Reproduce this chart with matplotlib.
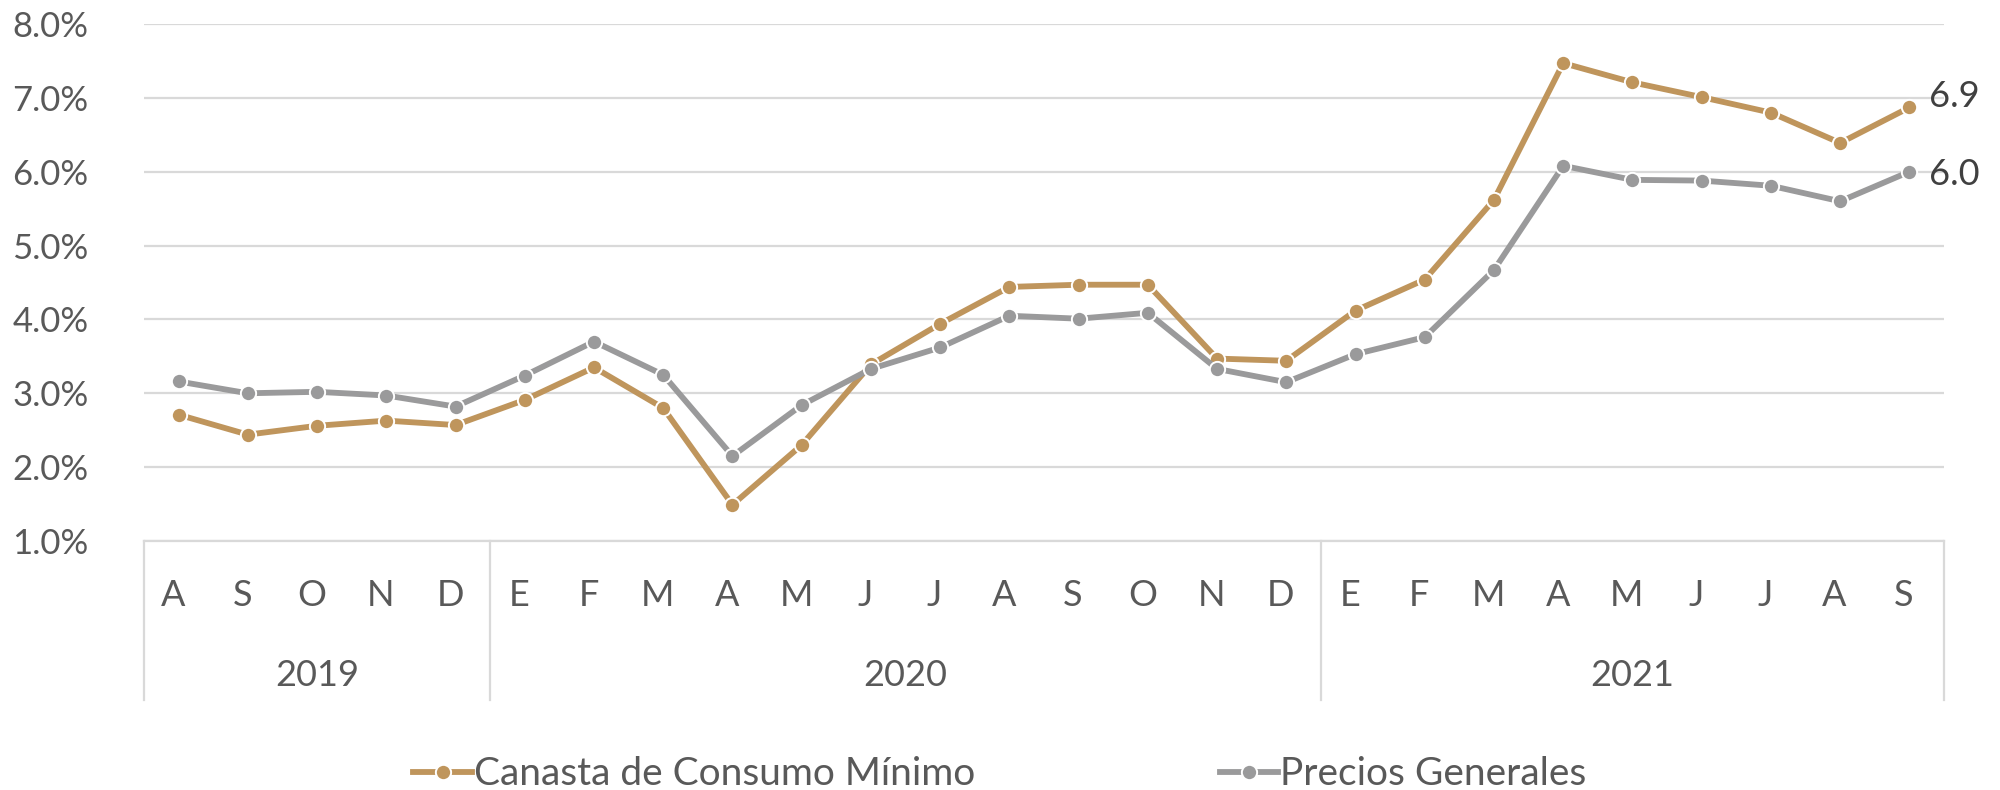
import matplotlib
matplotlib.use("Agg")
import matplotlib.pyplot as plt
import matplotlib.transforms as mtransforms
import numpy as np

# monthly inflation, Aug 2019 - Sep 2021
months = ['A', 'S', 'O', 'N', 'D',
          'E', 'F', 'M', 'A', 'M', 'J', 'J', 'A', 'S', 'O', 'N', 'D',
          'E', 'F', 'M', 'A', 'M', 'J', 'J', 'A', 'S']
years = ['2019', '2020', '2021']
year_counts = [5, 12, 9]

canasta = [2.71, 2.44, 2.56, 2.63, 2.57,
           2.91, 3.35, 2.80, 1.49, 2.30, 3.39, 3.94, 4.44, 4.47, 4.47, 3.47, 3.44,
           4.12, 4.54, 5.62, 7.47, 7.21, 7.01, 6.80, 6.39, 6.87]
precios = [3.16, 3.00, 3.02, 2.97, 2.82,
           3.24, 3.70, 3.25, 2.15, 2.84, 3.33, 3.62, 4.05, 4.01, 4.09, 3.33, 3.15,
           3.53, 3.76, 4.67, 6.08, 5.89, 5.88, 5.81, 5.60, 6.00]
yticks = [1, 2, 3, 4, 5, 6, 7, 8]

GOLD = '#BF955C'
GRAY = '#9A9A9B'
GRID = '#D9D9D9'
TXT = '#595959'

plt.rcParams['font.family'] = ['Lato', 'DejaVu Sans']

fig = plt.figure(figsize=(20, 7.9), dpi=100)
ax = fig.add_axes([0.072, 0.3152, 0.9, 0.6544])

x = np.arange(len(months))
ax.plot(x, canasta, color=GOLD, lw=4.2, marker='o', ms=11,
        mec='white', mew=1.4, label='Canasta de Consumo Mínimo', zorder=3)
ax.plot(x, precios, color=GRAY, lw=4.2, marker='o', ms=11,
        mec='white', mew=1.4, label='Precios Generales', zorder=4)

ax.set_xlim(-0.5, len(months) - 0.5)
ax.set_ylim(yticks[0], yticks[-1])
ax.set_yticks(yticks)
ax.set_yticklabels([f'{v:.1f}%' for v in yticks])
ax.tick_params(axis='y', length=0, pad=40, labelsize=25, labelcolor=TXT)
ax.set_xticks([])
ax.grid(axis='y', color=GRID, lw=1.6)
ax.set_axisbelow(True)
for s in ['top', 'left', 'right']:
    ax.spines[s].set_visible(False)
ax.spines['bottom'].set_color(GRID)
ax.spines['bottom'].set_linewidth(1.6)

# two-level category axis
trans = mtransforms.blended_transform_factory(ax.transData, ax.transAxes)
for i, m in enumerate(months):
    ax.text(i - 0.08, -0.106, m, transform=trans, ha='center', va='center',
            fontsize=26, color=TXT)

edges = np.concatenate([[0], np.cumsum(year_counts)]) - 0.5
for xe in edges:
    ax.plot([xe, xe], [0, -0.3075], transform=trans, color=GRID, lw=1.6,
            clip_on=False)
for yr, a, b in zip(years, edges[:-1], edges[1:]):
    ax.text((a + b) / 2, -0.261, yr, transform=trans, ha='center',
            va='center', fontsize=26, color=TXT)

# end labels
ax.annotate(f'{canasta[-1]:.1f}', (x[-1], canasta[-1]), xytext=(14, 8),
            textcoords='offset points', ha='left', va='center',
            fontsize=26, color='#404040', annotation_clip=False)
ax.annotate(f'{precios[-1]:.1f}', (x[-1], precios[-1]), xytext=(14, -2),
            textcoords='offset points', ha='left', va='center',
            fontsize=26, color='#404040', annotation_clip=False)

fig.legend(loc='center', bbox_to_anchor=(0.5, 0.02), ncol=2, frameon=False,
           fontsize=28, handlelength=1.5, handletextpad=0.05,
           columnspacing=6.3, labelcolor=TXT)

fig.savefig('out.png', dpi=100, facecolor='white')
